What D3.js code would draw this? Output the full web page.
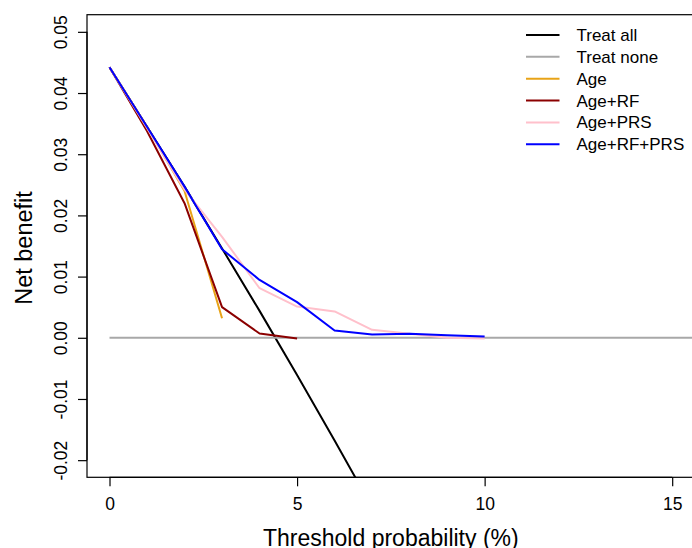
<!DOCTYPE html>
<html>
<head>
<meta charset="utf-8">
<script src="https://cdn.jsdelivr.net/npm/d3@7"></script>
<style>
  body { margin: 0; background: #fff; }
  text { font-family: "Liberation Sans", Arial, Helvetica, sans-serif; fill: #000; }
</style>
</head>
<body>
<div id="chart"></div>
<script>
// threshold probabilities (%) and net benefit per model
const thresholds = [0, 1, 2, 3, 4, 5, 6, 7, 8, 9, 10];
const treatAll  = [0.0442, 0.0345, 0.0247, 0.0146, 0.0044, -0.0061, -0.0168, -0.0277];
const treatNone = [0, 0, 0, 0, 0, 0, 0, 0, 0, 0, 0, 0, 0, 0, 0, 0, 0];
const age       = [0.0442, 0.0345, 0.0240, 0.0032];
const ageRF     = [0.0442, 0.0338, 0.0220, 0.0050, 0.0007, -0.0001];
const agePRS    = [0.0442, 0.0343, 0.0242, 0.0165, 0.0081, 0.0051, 0.0043, 0.0013, 0.00065, 0.0000, -0.0001];
const ageRFPRS  = [0.0442, 0.0345, 0.0247, 0.01447, 0.00946, 0.00582, 0.0012, 0.00054, 0.00065, 0.0004, 0.0002];

const seriesNames = ["Treat all", "Treat none", "Age", "Age+RF", "Age+PRS", "Age+RF+PRS"];
const seriesColors = ["#000000", "#a8a8a8", "#E8A317", "#8B0000", "#FFC0CB", "#0000FF"];
const seriesValues = [treatAll, treatNone, age, ageRF, agePRS, ageRFPRS];

const xTicks = [0, 5, 10, 15];
const yTicks = [-0.02, -0.01, 0, 0.01, 0.02, 0.03, 0.04, 0.05];

const W = 692, H = 548;
const plot = { left: 87, top: 14.7, right: 694.7, bottom: 477.3 };

const svg = d3.select("#chart").append("svg")
    .attr("width", W)
    .attr("height", H);

// R style: 4% padding round the limits
const x = d3.scaleLinear().domain([-0.6, 15.6]).range([plot.left, plot.right]);
const y = d3.scaleLinear().domain([-0.0228, 0.0528]).range([plot.bottom, plot.top]);

svg.append("clipPath").attr("id", "clip")
    .append("rect")
    .attr("x", plot.left).attr("y", plot.top)
    .attr("width", plot.right - plot.left)
    .attr("height", plot.bottom - plot.top);

const line = d3.line()
    .x((d, i) => x(i < thresholds.length ? thresholds[i] : i))
    .y(d => y(d));

const lines = svg.append("g").attr("clip-path", "url(#clip)");
seriesValues.forEach((vals, k) => {
    lines.append("path")
        .datum(vals)
        .attr("fill", "none")
        .attr("stroke", seriesColors[k])
        .attr("stroke-width", 2)
        .attr("stroke-linejoin", "round")
        .attr("d", line);
});

// box
svg.append("rect")
    .attr("x", plot.left).attr("y", plot.top)
    .attr("width", plot.right - plot.left)
    .attr("height", plot.bottom - plot.top)
    .attr("fill", "none")
    .attr("stroke", "#000")
    .attr("stroke-width", 1.2);

// x axis
const xAxis = svg.append("g")
    .attr("transform", `translate(0,${plot.bottom})`)
    .call(d3.axisBottom(x).tickValues(xTicks).tickSize(9).tickPadding(4).tickFormat(d3.format("d")));
xAxis.select(".domain").attr("d", `M${x(0)},0H${x(15)}`).attr("stroke-width", 1.2);
xAxis.selectAll(".tick line").attr("stroke-width", 1.2);
xAxis.selectAll("text")
    .attr("font-size", "17.5px")
    .attr("font-family", "Liberation Sans, Arial, sans-serif")
    .attr("y", 0).attr("dy", null)
    .attr("transform", "translate(0,33)");

// y axis
const yAxis = svg.append("g")
    .attr("transform", `translate(${plot.left},0)`)
    .call(d3.axisLeft(y).tickValues(yTicks).tickSize(9).tickFormat(d => d3.format(".2f")(d).replace("−", "-")));
yAxis.select(".domain").attr("d", `M0,${y(-0.02)}V${y(0.05)}`).attr("stroke-width", 1.2);
yAxis.selectAll(".tick line").attr("stroke-width", 1.2);
yAxis.selectAll("text")
    .attr("font-size", "17.5px")
    .attr("font-family", "Liberation Sans, Arial, sans-serif")
    .attr("x", 0).attr("dy", null)
    .attr("text-anchor", "middle")
    .attr("transform", "translate(-20.5,0) rotate(-90)");

// axis titles
svg.append("text")
    .attr("x", (plot.left + plot.right) / 2)
    .attr("y", 546)
    .attr("text-anchor", "middle")
    .style("font-size", "23px")
    .text("Threshold probability (%)");

svg.append("text")
    .attr("transform", `translate(32,${(plot.top + plot.bottom) / 2 + 2}) rotate(-90)`)
    .attr("text-anchor", "middle")
    .style("font-size", "23.5px")
    .text("Net benefit");

// legend
const legend = svg.append("g");
seriesNames.forEach((name, k) => {
    const ly = 35 + k * 21.85;
    legend.append("line")
        .attr("x1", 526).attr("x2", 559.5)
        .attr("y1", ly).attr("y2", ly)
        .attr("stroke", seriesColors[k])
        .attr("stroke-width", 2);
    legend.append("text")
        .attr("x", 576.5)
        .attr("y", ly + 6)
        .style("font-size", "17px")
        .text(name);
});
</script>
</body>
</html>
